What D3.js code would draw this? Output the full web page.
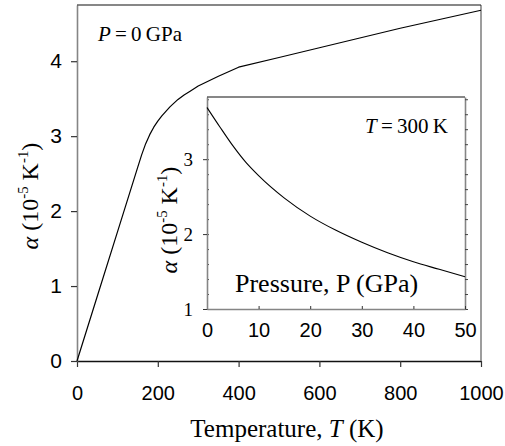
<!DOCTYPE html>
<html>
<head>
<meta charset="utf-8">
<script src="https://cdn.jsdelivr.net/npm/d3@7"></script>
<style>
  body { margin: 0; background: #fff; }
  svg { display: block; }
  .sans { font-family: "Liberation Sans", Arial, sans-serif; }
  .serif { font-family: "Liberation Serif", "Times New Roman", serif; }
</style>
</head>
<body>
<div id="chart"></div>
<script>
// main curve: alpha vs temperature at P = 0
var temps  = [0, 50, 100, 150, 160, 170, 180, 190, 200, 210, 220, 230, 240, 250, 265, 280, 300, 350, 400, 500, 600, 700, 800, 900, 1000];
var alphaT = [0, 0.86, 1.72, 2.58, 2.75, 2.9, 3.02, 3.12, 3.2, 3.27, 3.33, 3.39, 3.44, 3.49, 3.55, 3.6, 3.67, 3.8, 3.92, 4.05, 4.18, 4.31, 4.44, 4.56, 4.68];

// inset curve: alpha vs pressure at T = 300 K
var press  = [0, 2.5, 5, 7.5, 10, 15, 20, 25, 30, 35, 40, 45, 50];
var alphaP = [3.69, 3.43, 3.18, 2.96, 2.78, 2.48, 2.24, 2.05, 1.89, 1.75, 1.63, 1.53, 1.43];

var mainXTicks = [0, 200, 400, 600, 800, 1000];
var mainYTicks = [0, 1, 2, 3, 4];
var insetXTicks = [0, 10, 20, 30, 40, 50];
var insetYTicks = [1, 2, 3];

var W = 505, H = 446;

var svg = d3.select("#chart").append("svg")
    .attr("width", W)
    .attr("height", H);

var gray = "#858585";
var fmt = d3.format("d");

// ---------- main plot ----------
var x = d3.scaleLinear().domain([0, 1000]).range([77, 481]);
var y = d3.scaleLinear().domain([0, 4.75]).range([361, 5]);

// x axis
var xAxis = svg.append("g")
    .attr("class", "sans")
    .attr("transform", "translate(0," + y(0) + ")")
    .call(d3.axisBottom(x).tickValues(mainXTicks).tickFormat(fmt).tickSize(6).tickSizeOuter(0).tickPadding(19));
xAxis.select(".domain").attr("stroke", "#111").attr("stroke-width", 1.4);
xAxis.selectAll(".tick line").attr("stroke", "#333").attr("stroke-width", 1.2);
xAxis.selectAll("text").style("font-size", "20px").attr("fill", "#000");

// y axis
var yAxis = svg.append("g")
    .attr("class", "sans")
    .attr("transform", "translate(" + x(0) + ",0)")
    .call(d3.axisLeft(y).tickValues(mainYTicks).tickFormat(fmt).tickSize(6).tickSizeOuter(0).tickPadding(9));
yAxis.select(".domain").attr("stroke", gray).attr("stroke-width", 1.6);
yAxis.selectAll(".tick line").attr("stroke", "#333").attr("stroke-width", 1.2);
yAxis.selectAll("text").style("font-size", "21px").attr("fill", "#000");

// right and top border
svg.append("line")
    .attr("x1", x(1000)).attr("x2", x(1000))
    .attr("y1", y(4.75)).attr("y2", y(0))
    .attr("stroke", gray).attr("stroke-width", 1.6);
svg.append("line")
    .attr("x1", x(0)).attr("x2", x(1000))
    .attr("y1", y(4.75)).attr("y2", y(4.75))
    .attr("stroke", "#111").attr("stroke-width", 1.2);

var mainLine = d3.line()
    .x(function(d, i) { return x(temps[i]); })
    .y(function(d) { return y(d); });

svg.append("path")
    .datum(alphaT)
    .attr("d", mainLine)
    .attr("fill", "none")
    .attr("stroke", "#000")
    .attr("stroke-width", 1.2)
    .attr("stroke-linejoin", "round");

// axis titles
var xt = svg.append("text")
    .attr("class", "serif")
    .attr("x", 287).attr("y", 437)
    .attr("text-anchor", "middle")
    .style("font-size", "25px");
xt.append("tspan").text("Temperature, ");
xt.append("tspan").style("font-style", "italic").text("T");
xt.append("tspan").text(" (K)");

function alphaTitle(g, cx, cy, size) {
    var t = g.append("text")
        .attr("class", "serif")
        .attr("transform", "translate(" + cx + "," + cy + ") rotate(-90)")
        .attr("text-anchor", "middle")
        .style("font-size", size + "px");
    t.append("tspan").style("font-style", "italic").text("α");
    t.append("tspan").text(" (10");
    t.append("tspan").attr("dy", -size * 0.42).style("font-size", (size * 0.62) + "px").text("-5");
    t.append("tspan").attr("dy", size * 0.42).text(" K");
    t.append("tspan").attr("dy", -size * 0.42).style("font-size", (size * 0.62) + "px").text("-1");
    t.append("tspan").attr("dy", size * 0.42).text(")");
}
alphaTitle(svg, 38, 196, 24);

var pl = svg.append("text")
    .attr("class", "serif")
    .attr("x", 98).attr("y", 41)
    .style("font-size", "21px");
pl.append("tspan").style("font-style", "italic").text("P");
pl.append("tspan").text("\u2009=\u20090\u2009GPa");

// ---------- inset ----------
var xi = d3.scaleLinear().domain([0, 50]).range([207, 465]);
var yi = d3.scaleLinear().domain([1, 3.83]).range([309, 97]);

svg.append("rect")
    .attr("x", xi(0)).attr("y", yi(3.83))
    .attr("width", xi(50) - xi(0)).attr("height", yi(1) - yi(3.83))
    .attr("fill", "#fff");

// minor ticks every 0.2 on left (inside) and right (outside)
var minor = d3.range(1, 3.81, 0.2);
var iyMinor = svg.append("g")
    .attr("transform", "translate(" + xi(0) + ",0)")
    .call(d3.axisRight(yi).tickValues(minor).tickSize(2).tickFormat(""));
iyMinor.select(".domain").remove();
iyMinor.selectAll(".tick line").attr("stroke", "#444");

var iyRight = svg.append("g")
    .attr("transform", "translate(" + xi(50) + ",0)")
    .call(d3.axisRight(yi).tickValues(minor).tickSize(3).tickSizeOuter(0).tickFormat(""));
iyRight.select(".domain").attr("stroke", gray).attr("stroke-width", 1.6);
iyRight.selectAll(".tick line").attr("stroke", "#444");

var ixAxis = svg.append("g")
    .attr("class", "sans")
    .attr("transform", "translate(0," + yi(1) + ")")
    .call(d3.axisBottom(xi).tickValues(insetXTicks).tickFormat(fmt).tickSize(-3).tickSizeOuter(0).tickPadding(14));
ixAxis.select(".domain").attr("stroke", gray).attr("stroke-width", 1.6);
ixAxis.selectAll(".tick line").attr("stroke", "#333");
ixAxis.selectAll("text").style("font-size", "20px").attr("fill", "#000");

var iyAxis = svg.append("g")
    .attr("class", "serif")
    .attr("transform", "translate(" + xi(0) + ",0)")
    .call(d3.axisLeft(yi).tickValues(insetYTicks).tickFormat(fmt).tickSize(4).tickSizeOuter(0).tickPadding(10));
iyAxis.select(".domain").attr("stroke", gray).attr("stroke-width", 1.6);
iyAxis.selectAll(".tick line").attr("stroke", "#333");
iyAxis.selectAll("text").style("font-size", "19px").attr("fill", "#000");

svg.append("line")
    .attr("x1", xi(0)).attr("x2", xi(50))
    .attr("y1", yi(3.83)).attr("y2", yi(3.83))
    .attr("stroke", "#111").attr("stroke-width", 1.2);

var insetLine = d3.line()
    .x(function(d, i) { return xi(press[i]); })
    .y(function(d) { return yi(d); })
    .curve(d3.curveMonotoneX);

svg.append("path")
    .datum(alphaP)
    .attr("d", insetLine)
    .attr("fill", "none")
    .attr("stroke", "#000")
    .attr("stroke-width", 1.1);

alphaTitle(svg, 177, 220, 24);

var tl = svg.append("text")
    .attr("class", "serif")
    .attr("x", 365).attr("y", 133)
    .style("font-size", "21px");
tl.append("tspan").style("font-style", "italic").text("T");
tl.append("tspan").text("\u2009=\u2009300\u2009K");

svg.append("text")
    .attr("class", "serif")
    .attr("x", 235).attr("y", 292)
    .style("font-size", "26px")
    .text("Pressure, P (GPa)");
</script>
</body>
</html>
